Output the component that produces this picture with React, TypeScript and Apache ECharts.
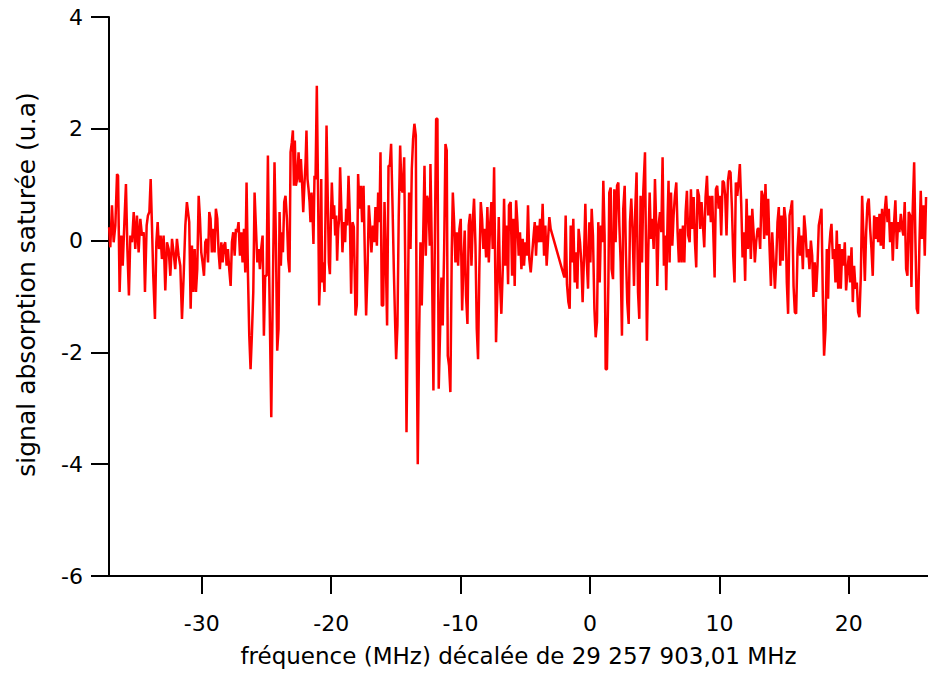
import React, { useEffect, useRef } from "react";
import * as echarts from "echarts";

// fréquence (MHz) / signal (u.a), left to right
const partA: [number, number][] = [
  [-37.16,0.24],[-37.07,-0.12],[-36.94,0.63],[-36.81,-0.03],[-36.68,0.27],[-36.55,1.19],[-36.47,1.16],[-36.35,-0.92],[-36.22,0.09],[-36.11,-0.45],
  [-35.98,0.33],[-35.86,1.01],[-35.75,-0.15],[-35.63,-0.98],[-35.52,0.09],[-35.39,-0.03],[-35.26,0.51],[-35.14,-0.15],[-35.01,0.45],[-34.88,-0.21],
  [-34.75,0.39],[-34.62,0.09],[-34.49,0.15],[-34.39,-0.92],[-34.26,0.27],[-34.16,0.45],[-34.05,0.51],[-33.95,1.10],[-33.85,0.27],[-33.75,-0.63],
  [-33.62,-1.40],[-33.51,-0.03],[-33.41,0.33],[-33.31,-0.15],[-33.18,0.09],[-33.08,-0.33],[-32.95,0.09],[-32.82,-0.89],[-32.69,-0.03],[-32.56,-0.15],
  [-32.43,-0.63],[-32.30,0.03],[-32.18,-0.21],[-32.05,-0.51],[-31.92,0.03],[-31.79,-0.27],[-31.66,-0.45],[-31.53,-1.40],[-31.40,-0.63],[-31.27,0.27],
  [-31.15,0.69],
];

const partB: [number, number][] = [
  [-30.97,0.33],[-30.86,-1.22],[-30.76,-0.09],[-30.66,-0.92],[-30.55,-0.15],[-30.45,-0.92],[-30.35,-0.51],[-30.24,0.80],[-30.14,0.39],[-30.04,-0.21],
  [-29.94,-0.39],[-29.83,-0.63],[-29.73,-0.03],[-29.63,0.03],[-29.52,-0.39],[-29.42,0.51],[-29.32,0.39],[-29.22,-0.21],[-29.11,0.21],[-29.01,-0.21],
  [-28.91,0.57],[-28.80,0.39],[-28.70,-0.21],[-28.60,-0.51],[-28.49,-0.03],[-28.39,-0.39],[-28.29,-0.09],[-28.19,-0.03],[-28.08,-0.45],[-27.98,-0.15],
  [-27.88,-0.51],[-27.77,-0.81],[-27.67,-0.03],[-27.57,0.15],[-27.46,-0.27],[-27.36,0.21],[-27.26,0.15],[-27.16,0.33],[-27.05,-0.27],[-26.95,0.15],
  [-26.85,-0.39],[-26.74,0.21],[-26.64,-0.57],[-26.54,1.04],[-26.43,-0.63],[-26.33,-1.70],[-26.23,-2.30],[-26.13,-1.70],[-26.02,-0.92],[-25.92,0.86],
  [-25.82,0.27],[-25.71,-0.39],[-25.61,-0.15],[-25.51,-0.51],[-25.41,-0.15],[-25.30,0.09],[-25.20,-1.70],[-25.10,-0.63],[-24.99,-0.63],[-24.89,1.52],
];

const partC: [number, number][] = [
  [-24.79,-0.63],[-24.63,-3.16],[-24.53,-1.22],[-24.38,1.40],[-24.27,-0.03],[-24.17,-1.97],[-24.07,-1.58],[-23.99,0.51],[-23.89,-0.45],[-23.81,0.15],
  [-23.73,-0.21],[-23.63,0.69],[-23.53,0.80],[-23.42,0.39],[-23.32,-0.33],[-23.22,-0.57],[-23.14,1.58],[-23.04,1.76],[-22.96,1.97],[-22.88,0.98],
  [-22.81,1.79],[-22.73,0.98],[-22.63,1.10],[-22.52,1.58],[-22.42,1.04],[-22.34,1.46],[-22.24,0.98],[-22.16,0.51],[-22.06,1.04],[-21.98,1.40],
  [-21.91,1.97],[-21.83,1.10],[-21.75,0.92],[-21.67,0.69],[-21.60,0.33],[-21.52,0.86],[-21.44,0.45],[-21.37,-0.06],[-21.29,1.16],[-21.21,1.10],
  [-21.11,2.77],[-21.00,0.57],[-20.93,-1.16],[-20.85,-0.63],[-20.77,1.10],[-20.70,-0.75],[-20.62,-0.39],[-20.52,-0.92],[-20.44,0.45],[-20.36,2.06],
  [-20.26,0.69],[-20.18,-0.39],[-20.10,-0.60],[-20.03,0.27],[-19.95,1.04],[-19.85,0.39],[-19.77,0.63],[-19.69,0.09],[-19.61,0.45],[-19.54,-0.36],
  [-19.46,0.21],[-19.38,0.39],[-19.31,1.31],[-19.20,0.45],[-19.13,-0.21],[-19.02,0.33],[-18.92,-0.03],[-18.84,0.57],[-18.76,0.27],[-18.66,1.16],
];

const partD: [number, number][] = [
  [-18.56,0.45],[-18.46,-0.95],[-18.35,0.33],[-18.25,0.24],[-18.12,-1.34],[-18.02,-1.16],[-17.92,1.19],[-17.81,0.57],[-17.71,0.98],[-17.61,0.33],
  [-17.50,0.98],[-17.40,-0.27],[-17.30,-1.34],[-17.19,-0.51],[-17.09,0.63],[-16.99,0.27],[-16.89,-0.21],[-16.78,0.27],[-16.68,-0.03],[-16.58,0.60],
  [-16.47,-0.09],[-16.37,0.86],[-16.27,0.33],[-16.19,1.58],[-16.09,-1.16],[-15.98,-1.16],[-15.88,0.69],[-15.78,-0.33],[-15.68,-1.52],[-15.57,1.34],
  [-15.47,1.34],[-15.37,1.73],[-15.26,0.63],[-15.16,-0.51],[-15.06,-1.46],[-14.98,-2.12],[-14.88,-1.52],[-14.78,0.45],[-14.67,1.70],[-14.57,0.92],
  [-14.47,0.86],[-14.36,1.49],[-14.26,-0.86],[-14.18,-3.43],[-14.08,-1.34],[-13.98,0.86],[-13.87,-0.15],[-13.77,1.28],[-13.67,1.82],[-13.57,2.09],
  [-13.46,1.88],[-13.39,-1.82],[-13.31,-4.00],[-13.21,-1.82],[-13.10,-0.03],[-13.00,-1.16],[-12.90,-0.03],[-12.79,1.34],[-12.69,-0.27],[-12.59,0.80],
  [-12.49,0.69],[-12.38,-0.09],
];

const partE: [number, number][] = [
  [-12.33,1.37],[-12.23,-0.03],[-12.10,-2.68],[-11.99,-0.03],[-11.89,2.18],[-11.79,2.18],[-11.69,-2.65],[-11.58,-1.58],[-11.48,-0.66],[-11.38,-1.52],
  [-11.27,-0.15],[-11.17,1.73],[-11.07,1.61],[-10.99,-2.06],[-10.89,-2.24],[-10.79,-2.71],[-10.68,-0.15],[-10.60,0.86],[-10.50,0.33],[-10.40,-0.39],
  [-10.30,0.15],[-10.19,-0.45],[-10.09,0.21],[-9.99,0.39],[-9.88,-1.25],[-9.78,-0.39],[-9.68,0.18],[-9.58,-0.98],[-9.47,-1.49],[-9.37,0.27],
  [-9.27,0.48],[-9.16,-0.45],[-9.06,0.33],[-8.96,0.75],[-8.85,-0.09],[-8.75,-1.58],[-8.65,-2.12],[-8.55,-0.51],[-8.44,0.69],[-8.34,0.39],
  [-8.24,-0.15],[-8.13,0.21],[-8.03,-0.30],[-7.93,0.60],[-7.82,-0.39],[-7.72,0.27],[-7.62,0.69],[-7.52,-0.15],[-7.41,1.31],[-7.34,-0.15],
  [-7.26,-1.82],[-7.16,-0.92],[-7.05,0.42],[-6.95,-0.75],[-6.85,-1.31],[-6.74,-0.51],[-6.64,0.75],[-6.54,-0.45],[-6.44,0.27],[-6.33,-0.78],
  [-6.26,0.63],
];

const partF: [number, number][] = [
  [-6.13,0.69],[-6.02,-0.63],[-5.92,0.39],[-5.82,-0.81],[-5.71,0.72],[-5.61,0.33],[-5.51,-0.27],[-5.41,0.15],[-5.30,-0.51],[-5.20,0.03],
  [-5.10,-0.45],[-4.99,-0.03],[-4.89,-0.27],[-4.79,0.63],[-4.69,-0.33],[-4.58,-0.57],[-4.48,-0.27],[-4.38,0.03],[-4.27,0.33],[-4.17,-0.27],
  [-4.07,0.27],[-3.96,-0.03],[-3.86,0.39],[-3.76,-0.03],[-3.66,0.66],[-3.55,-0.27],[-3.45,0.27],[-3.35,-0.45],[-3.24,0.03],[-3.14,0.42],
  [-3.04,0.21],
  [-1.98,-0.66],[-1.88,0.45],[-1.78,-0.78],[-1.67,-1.10],[-1.57,-1.22],[-1.49,0.27],[-1.39,-0.39],[-1.29,0.39],[-1.18,-0.75],[-1.08,-0.21],
  [-0.98,-0.86],[-0.88,0.21],[-0.77,-0.03],[-0.67,-0.39],[-0.57,-1.10],[-0.46,-0.27],[-0.36,0.66],[-0.26,-0.33],[-0.15,-0.86],[-0.05,0.33],
];

const partG: [number, number][] = [
  [0.03,-0.39],[0.13,0.57],[0.23,0.09],[0.34,-1.22],[0.44,-1.73],[0.54,-1.46],[0.64,0.33],[0.75,-0.75],[0.85,0.27],[0.95,-0.03],
  [1.03,1.07],[1.13,0.09],[1.21,-2.30],[1.31,-2.30],[1.42,-0.75],[1.49,0.86],[1.60,0.95],[1.67,-0.51],[1.78,-0.69],[1.88,0.92],
  [1.98,-0.03],[2.09,0.98],[2.19,1.04],[2.27,0.27],[2.37,-0.39],[2.47,-1.70],[2.57,0.57],[2.68,0.98],[2.78,-0.27],[2.88,-1.10],
  [2.99,-1.49],[3.09,0.33],[3.19,0.75],[3.29,0.21],[3.40,-0.81],[3.50,0.57],[3.60,1.22],[3.71,-0.92],[3.81,-1.40],[3.91,0.80],
  [4.02,-0.39],[4.12,0.89],[4.25,1.58],[4.32,-0.03],[4.40,-1.79],[4.50,-0.21],[4.61,0.86],[4.71,0.03],[4.81,0.39],[4.92,-0.15],
  [5.02,1.10],[5.12,0.27],[5.20,-0.81],[5.30,0.27],[5.41,0.51],[5.51,0.15],[5.61,1.49],[5.71,-0.45],[5.82,0.09],[5.89,-0.89],
  [6.00,0.45],[6.07,1.07],
];

const partH: [number, number][] = [
  [6.15,-0.39],[6.26,0.86],[6.36,-0.09],[6.46,0.45],[6.56,0.80],[6.67,1.04],[6.77,0.15],[6.87,-0.39],[6.98,0.21],[7.08,-0.39],
  [7.18,0.27],[7.29,-0.39],[7.39,0.51],[7.49,0.89],[7.59,0.09],[7.70,-0.03],[7.80,0.92],[7.90,0.21],[8.01,0.78],[8.11,-0.03],
  [8.21,-0.48],[8.31,0.92],[8.42,0.80],[8.52,0.21],[8.62,0.69],[8.73,0.27],[8.83,-0.12],[8.93,0.78],[9.04,1.16],[9.14,0.45],
  [9.24,0.80],[9.34,0.33],[9.45,0.80],[9.55,-0.03],[9.63,-0.66],[9.73,0.92],[9.83,0.98],[9.94,0.57],[10.04,0.80],[10.14,0.09],
  [10.25,1.07],[10.35,1.04],[10.45,0.80],[10.55,0.09],[10.66,1.07],[10.76,1.25],[10.86,1.22],[10.97,0.57],[11.07,-0.27],[11.17,-0.75],
  [11.27,1.04],[11.38,0.80],[11.48,1.04],[11.58,1.37],[11.69,0.63],[11.79,-0.30],[11.89,0.15],[11.99,-0.72],[12.10,0.75],[12.20,-0.15],
];

const partI: [number, number][] = [
  [12.33,0.45],[12.43,-0.33],[12.54,0.57],[12.64,0.15],[12.74,-0.39],[12.84,-0.03],[12.95,0.21],[13.05,0.21],[13.15,-0.15],[13.26,0.89],
  [13.36,0.80],[13.46,0.03],[13.56,1.01],[13.67,0.09],[13.77,0.75],[13.87,-0.09],[13.98,-0.81],[14.08,0.15],[14.18,-0.33],[14.29,-0.86],
  [14.39,-0.39],[14.49,0.33],[14.59,0.60],[14.70,-0.45],[14.80,0.45],[14.90,-0.36],[15.01,0.60],[15.11,0.39],[15.21,-0.75],[15.31,-1.31],
  [15.42,0.45],[15.52,0.57],[15.62,0.72],[15.73,-0.81],[15.83,-1.28],[15.93,-1.31],[16.04,-0.15],[16.14,0.24],[16.24,-0.27],[16.34,0.09],
  [16.45,-0.51],[16.55,0.45],[16.65,0.18],[16.76,-0.30],[16.86,-0.15],[16.96,-0.51],[17.07,0.00],[17.17,-0.27],[17.27,-1.01],[17.37,-0.39],
  [17.48,-0.92],[17.58,-0.45],[17.68,0.27],[17.79,0.42],[17.89,0.57],[17.99,-0.98],[18.09,-2.06],[18.20,-1.58],[18.30,-0.15],[18.40,-1.04],
];

const partJ: [number, number][] = [
  [18.48,-0.15],[18.58,0.15],[18.66,0.30],[18.77,-0.33],[18.87,-0.15],[18.97,-0.75],[19.07,0.18],[19.18,-0.86],[19.28,-0.06],[19.38,-0.86],
  [19.49,-0.15],[19.59,-0.45],[19.69,-0.03],[19.79,-0.89],[19.90,-0.51],[20.00,-0.27],[20.10,-0.75],[20.21,-0.12],[20.31,-1.10],[20.41,-0.45],
  [20.52,-0.86],[20.62,-0.75],[20.72,-1.28],[20.82,-1.37],[20.93,-0.63],[21.03,0.80],[21.13,0.09],[21.24,-0.72],[21.34,0.15],[21.44,0.66],
  [21.54,0.75],[21.65,0.21],[21.75,-0.15],[21.85,-0.63],[21.96,0.45],[22.06,0.03],[22.16,0.42],[22.27,-0.03],[22.37,0.48],[22.47,-0.09],
  [22.57,0.57],[22.68,-0.15],[22.78,0.54],[22.88,0.80],[22.99,0.33],[23.09,0.57],[23.19,-0.03],[23.30,0.33],[23.40,-0.36],[23.50,0.33],
  [23.60,0.72],[23.71,-0.15],[23.81,0.33],[23.91,0.15],[24.02,0.48],[24.12,0.21],[24.22,0.09],[24.32,0.69],[24.43,-0.51],[24.53,-0.63],
  [24.63,0.51],[24.74,0.45],[24.84,-0.83],[24.94,0.57],[25.05,1.40],[25.15,-0.03],[25.25,-1.22],[25.35,-1.31],[25.46,-0.03],[25.56,0.89],
  [25.66,0.03],[25.77,0.63],[25.87,-0.27],[25.97,0.78],
];

const xTickValues = [-30, -20, -10, 0, 10, 20];
const xMin = -37.17;
const xMax = 26.12;
const yMin = -6;
const yMax = 4;
const yStep = 2;

const xTitle = "fréquence (MHz) décalée de 29 257 903,01 MHz";
const yTitle = "signal absorption saturée (u.a)";

export default function App() {
  const ref = useRef<HTMLDivElement>(null);
  useEffect(() => {
    if (!ref.current) return;
    const chart = echarts.init(ref.current, null, { renderer: "svg" });
    const font = "'DejaVu Sans', 'Liberation Sans', Arial, sans-serif";
    const data = [
      ...partA, ...partB, ...partC, ...partD, ...partE,
      ...partF, ...partG, ...partH, ...partI, ...partJ,
    ];
    chart.setOption({
      animation: false,
      backgroundColor: "#ffffff",
      grid: { left: 109, right: 0, top: 17, bottom: 97, containLabel: false },
      xAxis: {
        type: "value",
        min: xMin,
        max: xMax,
        name: xTitle,
        nameLocation: "middle",
        nameGap: 68,
        nameTextStyle: { fontFamily: font, fontSize: 23, color: "#000" },
        axisLine: { show: true, onZero: false, lineStyle: { color: "#000", width: 2 } },
        axisTick: { show: true, inside: false, length: 18, customValues: xTickValues, lineStyle: { color: "#000", width: 2 } },
        axisLabel: { show: true, customValues: xTickValues, margin: 36, fontFamily: font, fontSize: 22, color: "#000" },
        splitLine: { show: false },
        minorTick: { show: false },
      },
      yAxis: {
        type: "value",
        min: yMin,
        max: yMax,
        interval: yStep,
        name: yTitle,
        nameLocation: "middle",
        nameGap: 70,
        nameRotate: 90,
        nameTextStyle: { fontFamily: font, fontSize: 25, color: "#000", padding: [0, 0, 0, 24] },
        axisLine: { show: true, onZero: false, lineStyle: { color: "#000", width: 2 } },
        axisTick: { show: true, inside: false, length: 18, lineStyle: { color: "#000", width: 2 } },
        axisLabel: { show: true, margin: 26, fontFamily: font, fontSize: 22, color: "#000" },
        splitLine: { show: false },
      },
      series: [
        {
          type: "line",
          data,
          symbol: "none",
          showSymbol: false,
          clip: true,
          lineStyle: { color: "#ff0000", width: 2.5 },
          emphasis: { disabled: true },
        },
      ],
    });
    return () => chart.dispose();
  }, []);
  return (
    <div
      ref={ref}
      style={{ position: "fixed", left: 0, top: 0, width: 928, height: 673, background: "#fff" }}
    />
  );
}
